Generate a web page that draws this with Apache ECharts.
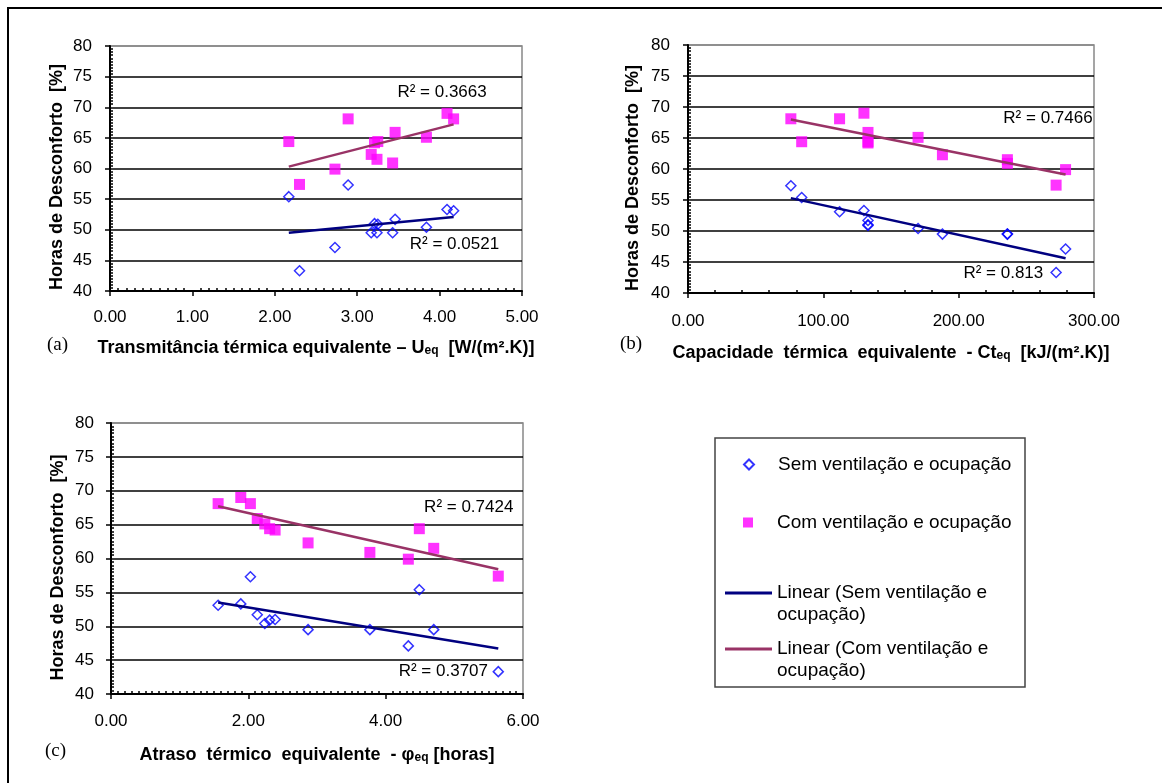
<!DOCTYPE html>
<html><head><meta charset="utf-8">
<script src="https://cdn.jsdelivr.net/npm/echarts@6/dist/echarts.min.js"></script>
<style>html,body{margin:0;padding:0;background:#fff}#c{width:1162px;height:783px}</style>
</head><body><div id="c"></div>
<script>
// ---- data (13 cases) ----
const seriesNames = ['Sem ventilação e ocupação', 'Com ventilação e ocupação',
  'Linear (Sem ventilação e ocupação)', 'Linear (Com ventilação e ocupação)'];
const uEq   = [2.17, 2.30, 2.73, 2.89, 3.17, 3.21, 3.25, 3.24, 3.43, 3.46, 3.84, 4.09, 4.17];
const ctEq  = [84, 272, 279, 76, 188, 133, 133, 236, 236, 133, 170, 130, 112];
const phiEq = [4.49, 5.64, 4.33, 2.03, 2.87, 2.39, 2.31, 4.70, 3.77, 2.13, 2.24, 1.89, 1.56];
const semVent = [55.4, 43.3, 47.1, 57.3, 49.5, 51.0, 50.9, 49.5, 49.5, 51.7, 50.4, 53.3, 53.1];
const comVent = [64.4, 57.4, 59.9, 68.1, 62.3, 64.2, 64.4, 61.5, 60.9, 65.9, 65.1, 69.0, 68.1];
// trend line end points
const trendU   = [2.17, 4.17];
const trendUSem = [49.5, 52.1];
const trendUCom = [60.3, 67.2];
const trendCt   = [76, 279];
const trendCtSem = [55.3, 45.6];
const trendCtCom = [68.0, 59.1];
const trendPhi   = [1.56, 5.64];
const trendPhiSem = [53.5, 46.7];
const trendPhiCom = [67.7, 58.4];
const r2Labels = ['R² = 0.0521', 'R² = 0.3663', 'R² = 0.813', 'R² = 0.7466', 'R² = 0.3707', 'R² = 0.7424'];
const yTicks = [40, 80, 5];
const xTicksU = [0, 5, 1];
const xTicksCt = [0, 300, 100];
const xTicksPhi = [0, 6, 2];

const FONT = '"Liberation Sans", Arial, sans-serif';
const SERIF = '"Liberation Serif", "Times New Roman", serif';

const panels = [
  { x: uEq, tx: trendU, ts: trendUSem, tc: trendUCom, xt: xTicksU, minor: 10,
    grid: {left: 110, top: 46, width: 412, height: 245}, lm: 18, ylm: 18, gap: 48, ygap: 44, ypad: 17,
    name: 'Transmitância térmica equivalente – U{s|eq}  [W/(m².K)]',
    r2pos: [[4.18, 47.6], [4.03, 72.5]] },
  { x: ctEq, tx: trendCt, ts: trendCtSem, tc: trendCtCom, xt: xTicksCt, minor: 5,
    grid: {left: 688, top: 45, width: 406, height: 248}, lm: 20, ylm: 18, gap: 51, ygap: 46, ypad: 18,
    name: 'Capacidade  térmica  equivalente  - Ct{s|eq}  [kJ/(m².K)]',
    r2pos: [[233, 43.2], [266, 68.2]] },
  { x: phiEq, tx: trendPhi, ts: trendPhiSem, tc: trendPhiCom, xt: xTicksPhi, minor: 20,
    grid: {left: 111, top: 423, width: 412, height: 271}, lm: 19, ylm: 17, gap: 52, ygap: 44, ypad: 18,
    name: 'Atraso  térmico  equivalente  - φ{s|eq} [horas]',
    r2pos: [[4.84, 43.3], [5.21, 67.6]] }
];

const grids = [], xAxis = [], yAxis = [], series = [];
const splitColors = ['#000', '#000', '#000', '#000', '#000', '#000', '#000', '#000', '#888'];

panels.forEach((p, i) => {
  grids.push(Object.assign({show: true, borderColor: '#888', borderWidth: 1.5, backgroundColor: 'transparent'}, p.grid));
  xAxis.push({
    type: 'value', gridIndex: i, position: 'bottom', min: p.xt[0], max: p.xt[1], interval: p.xt[2],
    axisLine: {show: true, onZero: false, lineStyle: {color: '#000', width: 2}},
    axisTick: {show: true, inside: false, length: 5, lineStyle: {color: '#000', width: 1.5}},
    minorTick: {show: false}, splitLine: {show: false},
    axisLabel: {margin: p.lm, fontSize: 17, color: '#000', fontFamily: FONT, formatter: v => v.toFixed(2)},
    name: p.name, nameLocation: 'middle', nameGap: p.gap,
    nameTextStyle: {fontSize: 18, fontWeight: 'bold', color: '#000', fontFamily: FONT,
      rich: {s: {fontSize: 12, fontWeight: 'bold', color: '#000', fontFamily: FONT, verticalAlign: 'bottom', lineHeight: 8}}}
  });
  xAxis.push({
    type: 'value', gridIndex: i, position: 'bottom', min: p.xt[0], max: p.xt[1], interval: p.xt[2],
    axisLine: {show: false}, axisTick: {show: false, inside: true}, axisLabel: {show: false},
    minorTick: {show: true, splitNumber: p.minor, length: 3, lineStyle: {color: '#000', width: 1.5}},
    splitLine: {show: false}
  });
  yAxis.push({
    type: 'value', gridIndex: i, position: 'left', min: yTicks[0], max: yTicks[1], interval: yTicks[2],
    axisLine: {show: true, onZero: false, lineStyle: {color: '#000', width: 2}},
    axisTick: {show: true, inside: false, length: 5, lineStyle: {color: '#000', width: 1.5}},
    minorTick: {show: false},
    splitLine: {show: true, lineStyle: {color: splitColors, width: 1.5}},
    axisLabel: {margin: p.ylm, fontSize: 17, color: '#000', fontFamily: FONT},
    name: 'Horas de Desconforto  [%]', nameLocation: 'middle', nameGap: p.ygap,
    nameTextStyle: {fontSize: 18, fontWeight: 'bold', color: '#000', fontFamily: FONT, padding: [0, p.ypad, 0, 0]}
  });
  yAxis.push({
    type: 'value', gridIndex: i, position: 'left', min: yTicks[0], max: yTicks[1], interval: yTicks[2],
    axisLine: {show: false}, axisTick: {show: false, inside: true}, axisLabel: {show: false},
    minorTick: {show: true, splitNumber: 10, length: 3, lineStyle: {color: '#000', width: 1.5}},
    splitLine: {show: false}
  });
  const xi = 2 * i, yi = 2 * i;
  const mk = (txt, pos) => ({
    symbol: 'circle', symbolSize: 1, silent: true, itemStyle: {color: 'transparent'},
    label: {show: true, position: 'inside', formatter: txt, fontSize: 17, color: '#000', fontFamily: FONT},
    data: [{coord: pos}]
  });
  series.push({
    name: seriesNames[0], type: 'scatter', xAxisIndex: xi, yAxisIndex: yi, symbol: 'diamond', symbolSize: 10,
    itemStyle: {color: 'rgba(255,255,255,0)', borderColor: '#0000FF', borderWidth: 1.5},
    data: p.x.map((v, k) => [v, semVent[k]]), z: 3
  });
  series.push({
    name: seriesNames[1], type: 'scatter', xAxisIndex: xi, yAxisIndex: yi, symbol: 'rect', symbolSize: 11,
    itemStyle: {color: '#FF00FF'},
    data: p.x.map((v, k) => [v, comVent[k]]), z: 3
  });
  series.push({
    name: seriesNames[2], type: 'line', xAxisIndex: xi, yAxisIndex: yi, symbol: 'none', z: 4,
    lineStyle: {color: '#000080', width: 2.5}, itemStyle: {color: '#000080'},
    data: p.tx.map((v, k) => [v, p.ts[k]]),
    markPoint: mk(r2Labels[2 * i], p.r2pos[0])
  });
  series.push({
    name: seriesNames[3], type: 'line', xAxisIndex: xi, yAxisIndex: yi, symbol: 'none', z: 4,
    lineStyle: {color: '#993366', width: 2.5}, itemStyle: {color: '#993366'},
    data: p.tx.map((v, k) => [v, p.tc[k]]),
    markPoint: mk(r2Labels[2 * i + 1], p.r2pos[1])
  });
});

const txt = {fontSize: 19, color: '#000', fontFamily: FONT};
const legends = [
  {orient: 'vertical', left: 743, top: 455, padding: 0, itemWidth: 10, itemHeight: 10, selectedMode: false,
   data: [{name: seriesNames[0], icon: 'diamond'}],
   textStyle: Object.assign({}, txt, {lineHeight: 10, padding: [0, 0, 0, 19]})},
  {orient: 'vertical', left: 743, top: 513, padding: 0, itemWidth: 10, itemHeight: 10, selectedMode: false,
   data: [{name: seriesNames[1], icon: 'rect'}],
   textStyle: Object.assign({}, txt, {lineHeight: 10, padding: [0, 0, 0, 19]})},
  {orient: 'vertical', left: 725, top: 560, padding: 0, itemWidth: 47, itemHeight: 3, selectedMode: false,
   data: [{name: seriesNames[2], icon: 'rect'}],
   formatter: n => '\n' + n.replace(' e ocupação)', ' e\nocupação)'),
   textStyle: Object.assign({}, txt, {lineHeight: 22})},
  {orient: 'vertical', left: 725, top: 616, padding: 0, itemWidth: 47, itemHeight: 3, selectedMode: false,
   data: [{name: seriesNames[3], icon: 'rect'}],
   formatter: n => '\n' + n.replace(' e ocupação)', ' e\nocupação)'),
   textStyle: Object.assign({}, txt, {lineHeight: 22})}
];

const chart = echarts.init(document.getElementById('c'), null, {renderer: 'canvas'});
chart.setOption({
  backgroundColor: '#fff',
  animation: false,
  grid: grids, xAxis: xAxis, yAxis: yAxis, series: series, legend: legends,
  graphic: [
    {type: 'rect', shape: {x: 8, y: 8, width: 1200, height: 820}, style: {fill: 'none', stroke: '#000', lineWidth: 2}, silent: true},
    {type: 'rect', shape: {x: 715, y: 438, width: 310, height: 249}, style: {fill: 'none', stroke: '#444', lineWidth: 1.5}, silent: true},
    {type: 'text', left: 47, top: 336, style: {text: '(a)', font: '19px ' + SERIF, fill: '#000'}},
    {type: 'text', left: 620, top: 335, style: {text: '(b)', font: '19px ' + SERIF, fill: '#000'}},
    {type: 'text', left: 45, top: 742, style: {text: '(c)', font: '19px ' + SERIF, fill: '#000'}}
  ]
});
</script></body></html>
